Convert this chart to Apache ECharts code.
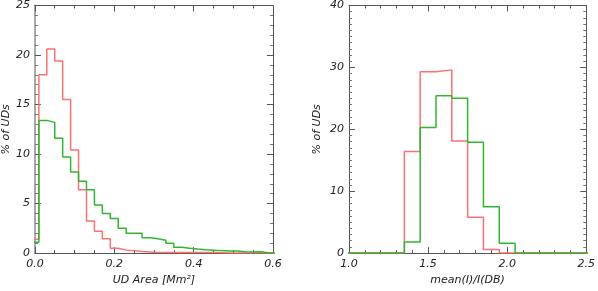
<!DOCTYPE html>
<html><head><meta charset="utf-8">
<script src="https://cdn.jsdelivr.net/npm/echarts@6/dist/echarts.min.js"></script>
<style>html,body{margin:0;padding:0;background:#fff}#c{width:598px;height:291px}</style>
</head><body><div id="c"></div>
<script>
// Left panel: UD area histogram (bin centers, width 0.02)
const areaCenters = [0.00,0.02,0.04,0.06,0.08,0.10,0.12,0.14,0.16,0.18,0.20,0.22,0.24,0.26,0.28,0.30,0.32,0.34,0.36,0.38,0.40,0.42,0.44,0.46,0.48,0.50,0.52,0.54,0.56,0.58,0.60];
const areaRed   = [1.4,18.0,20.6,19.4,15.5,10.4,6.4,3.25,2.2,1.45,0.5,0.3,0.25,0.15,0.1,0.05,0.05,0.05,0.05,0.05,0.05,0.05,0.05,0.03,0,0,0,0,0,0,0];
const areaGreen = [1.1,13.4,13.2,11.6,9.7,8.2,7.25,6.4,4.85,4.0,3.5,2.5,2.0,2.0,1.55,1.45,1.3,1.0,0.6,0.5,0.42,0.35,0.3,0.25,0.22,0.2,0.13,0.1,0.13,0,0];
const areaWidth = 0.02;
const areaTicks = [0.0,0.2,0.4,0.6];
// Right panel: mean(I)/I(DB) histogram (bin centers, width 0.1)
const intCenters = [1.0,1.1,1.2,1.3,1.4,1.5,1.6,1.7,1.8,1.9,2.0,2.1,2.2,2.3,2.4,2.5];
const intRed   = [0,0,0,0,16.4,29.3,29.6,18.1,5.8,0.6,0,0,0,0,0,0];
const intGreen = [0,0,0,0,1.8,20.3,25.4,25.0,17.9,7.5,1.6,0,0,0,0,0];
const intWidth = 0.1;
const intTicks = [1.0,1.5,2.0,2.5];

function steps(centers, vals, w){
  const d = centers.map((c,i)=>[c - w/2, vals[i]]);
  d.push([centers[centers.length-1] + w/2, vals[vals.length-1]]);
  return d;
}
const RED = '#ff7070', GREEN = '#2fb82f';
const font = {fontFamily:'DejaVu Sans', fontStyle:'italic', fontSize:11, color:'#222'};
const axisLine = (c,w)=>({show:true, onZero:false, lineStyle:{color:c, width:w}});

function xAx(grid, min, max, interval, minorSplit, name, nameGap, top){
  return {type:'value', gridIndex:grid, min, max, interval, position: top?'top':'bottom',
    axisLine: axisLine('#555',1),
    axisTick:{show:true, inside:true, length:6, lineStyle:{color:'#555'}},
    minorTick:{show:true, splitNumber:minorSplit, length:3, lineStyle:{color:'#555'}},
    splitLine:{show:false}, minorSplitLine:{show:false},
    axisLabel: top?{show:false}:Object.assign({margin:6, formatter:v=>v.toFixed(1)}, font),
    name: top?'':name, nameLocation:'middle', nameGap, nameTextStyle: Object.assign({}, font, {fontSize:11})};
}
function yAx(grid, min, max, interval, minorSplit, name, nameGap, right, lc, lw){
  return {type:'value', gridIndex:grid, min, max, interval, position: right?'right':'left',
    axisLine: axisLine(lc||'#555', lw||1),
    axisTick:{show:true, inside:true, length:6, lineStyle:{color:'#555'}},
    minorTick:{show:true, splitNumber:minorSplit, length:3, lineStyle:{color:'#777'}},
    splitLine:{show:false}, minorSplitLine:{show:false},
    axisLabel: right?{show:false}:Object.assign({margin:5}, font),
    name: right?'':name, nameLocation:'middle', nameGap, nameTextStyle: Object.assign({}, font)};
}

const chart = echarts.init(document.getElementById('c'), null, {renderer:'canvas'});
chart.setOption({
  animation:false,
  grid:[{left:32, right:325, top:1, bottom:30}, {left:349, right:9, top:1, bottom:30}],
  xAxis:[
    xAx(0, areaTicks[0], areaTicks[areaTicks.length-1], 0.2, 4, 'UD Area [Mm²]', 19, false),
    xAx(0, areaTicks[0], areaTicks[areaTicks.length-1], 0.2, 4, '', 0, true),
    xAx(1, intTicks[0], intTicks[intTicks.length-1], 0.5, 5, 'mean(I)/I(DB)', 19, false),
    xAx(1, intTicks[0], intTicks[intTicks.length-1], 0.5, 5, '', 0, true)
  ],
  yAxis:[
    yAx(0, 0, 25, 5, 5, '% of UDs', 20, false, '#aaa', 2),
    yAx(0, 0, 25, 5, 5, '', 0, true),
    yAx(1, 0, 40, 10, 10, '% of UDs', 26, false),
    yAx(1, 0, 40, 10, 10, '', 0, true)
  ],
  series:[
    {type:'line', xAxisIndex:0, yAxisIndex:0, step:'end', showSymbol:false, data:steps(areaCenters, areaRed, areaWidth), lineStyle:{color:RED, width:1.5}, clip:true},
    {type:'line', xAxisIndex:0, yAxisIndex:0, step:'end', showSymbol:false, data:steps(areaCenters, areaGreen, areaWidth), lineStyle:{color:GREEN, width:1.5}, clip:true},
    {type:'line', xAxisIndex:2, yAxisIndex:2, step:'end', showSymbol:false, data:steps(intCenters, intRed, intWidth), lineStyle:{color:RED, width:1.5}, clip:true},
    {type:'line', xAxisIndex:2, yAxisIndex:2, step:'end', showSymbol:false, data:steps(intCenters, intGreen, intWidth), lineStyle:{color:GREEN, width:1.5}, clip:true}
  ]
});
</script></body></html>
